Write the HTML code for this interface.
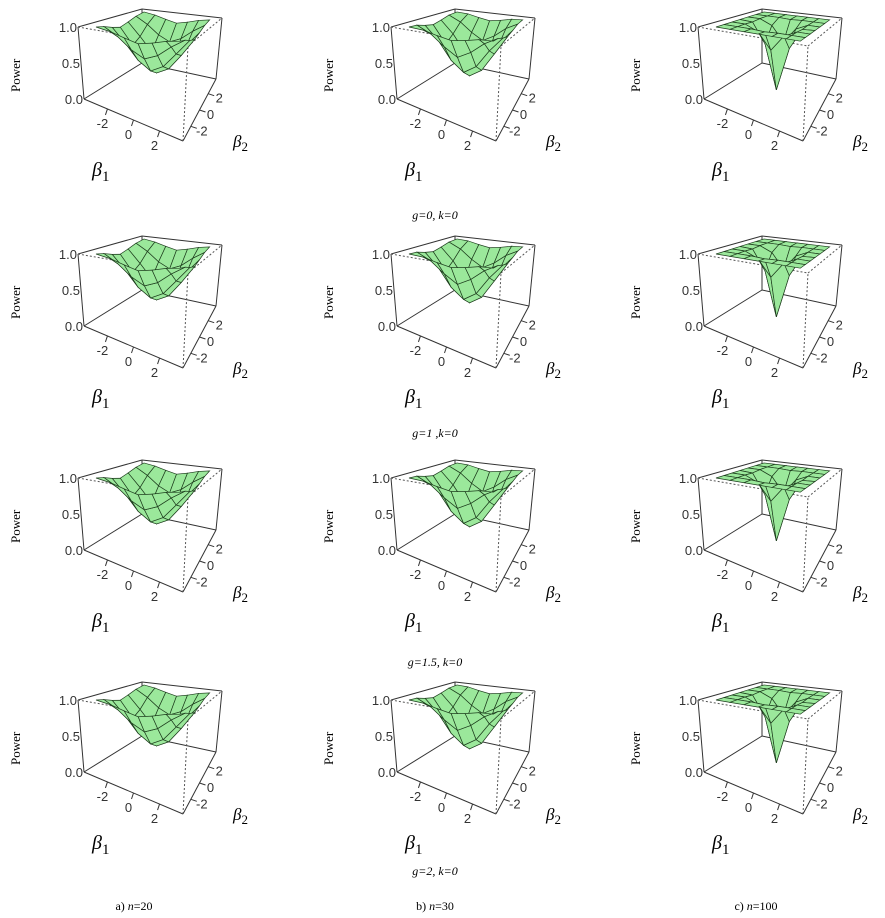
<!DOCTYPE html>
<html><head><meta charset="utf-8">
<style>
html,body{margin:0;padding:0;background:#fff;}
svg{display:block;font-family:"Liberation Sans",sans-serif;}
.ser{font-family:"Liberation Serif",serif;}
</style></head>
<body>
<svg id="fig" width="885" height="918" viewBox="0 0 885 918">
<g id="panels"></g>
<g class="ser" font-size="12" font-style="italic" fill="#000">
<text x="435" y="219" text-anchor="middle">g=0, k=0</text>
<text x="435" y="437" text-anchor="middle">g=1 ,k=0</text>
<text x="435" y="666" text-anchor="middle">g=1.5, k=0</text>
<text x="435" y="875" text-anchor="middle">g=2, k=0</text>
</g>
<g class="ser" font-size="12" fill="#000">
<text x="134" y="910" text-anchor="middle">a) <tspan font-style="italic">n</tspan>=20</text>
<text x="435" y="910" text-anchor="middle">b) <tspan font-style="italic">n</tspan>=30</text>
<text x="756" y="910" text-anchor="middle">c) <tspan font-style="italic">n</tspan>=100</text>
</g>
</svg>
<script>
// beta grid (both axes)
const betaGrid = [-3,-2,-1,0,1,2,3];
// power surfaces (rows = beta2, cols = beta1)
const powerN20 = [
 [1.00,0.97,0.92,0.88,0.92,0.97,1.00],
 [0.97,0.86,0.72,0.64,0.72,0.86,0.97],
 [0.92,0.72,0.52,0.42,0.52,0.72,0.92],
 [0.88,0.64,0.42,0.32,0.42,0.64,0.88],
 [0.92,0.72,0.52,0.42,0.52,0.72,0.92],
 [0.97,0.86,0.72,0.64,0.72,0.86,0.97],
 [1.00,0.97,0.92,0.88,0.92,0.97,1.00]];
const powerN30 = [
 [1.00,0.99,0.95,0.92,0.95,0.99,1.00],
 [0.99,0.90,0.76,0.66,0.76,0.90,0.99],
 [0.95,0.76,0.52,0.40,0.52,0.76,0.95],
 [0.92,0.66,0.40,0.28,0.40,0.66,0.92],
 [0.95,0.76,0.52,0.40,0.52,0.76,0.95],
 [0.99,0.90,0.76,0.66,0.76,0.90,0.99],
 [1.00,0.99,0.95,0.92,0.95,0.99,1.00]];
const powerN100 = [
 [1.00,1.00,1.00,1.00,1.00,1.00,1.00],
 [1.00,1.00,1.00,0.99,1.00,1.00,1.00],
 [1.00,1.00,0.92,0.70,0.92,1.00,1.00],
 [1.00,0.99,0.70,0.08,0.70,0.99,1.00],
 [1.00,1.00,0.92,0.70,0.92,1.00,1.00],
 [1.00,1.00,1.00,0.99,1.00,1.00,1.00],
 [1.00,1.00,1.00,1.00,1.00,1.00,1.00]];
const zTicks = [0, 0.5, 1];
const zTickLabels = ["0.0","0.5","1.0"];
const bTicks = [-2, 0, 2];
const bTickLabels = ["-2","0","2"];

const columns = [powerN20, powerN30, powerN100];
const colNames = ["n20","n30","n100"];
const colX = [0, 313, 620];
const rowY = [0, 227, 451, 673];
const NS = "http://www.w3.org/2000/svg";
// box corners (layout)
const A=[84,99], B=[183,141], C=[216,79], D=[142,63];
const At=[78,27], Bt=[188,46], Ct=[222,18], Dt=[142,9];
function bil(P,Q,R,S,u,v){
  return [P[0]*(1-u)*(1-v)+Q[0]*u*(1-v)+R[0]*u*v+S[0]*(1-u)*v,
          P[1]*(1-u)*(1-v)+Q[1]*u*(1-v)+R[1]*u*v+S[1]*(1-u)*v];}
const bMin=-3.8,bMax=3.8;
function uOf(b){return (b-bMin)/(bMax-bMin);}
function proj(b1,b2,z){
  const u=uOf(b1), v=uOf(b2);
  const p0=bil(A,B,C,D,u,v), p1=bil(At,Bt,Ct,Dt,u,v);
  return [p0[0]+(p1[0]-p0[0])*z, p0[1]+(p1[1]-p0[1])*z];}
function el(tag,attrs,parent){const e=document.createElementNS(NS,tag);for(const k in attrs)e.setAttribute(k,attrs[k]);parent.appendChild(e);return e;}
const root=document.getElementById('panels');
function line(g,p,q,dash){el('line',{x1:p[0],y1:p[1],x2:q[0],y2:q[1],stroke:dash?'#555':'#333','stroke-width':1,'stroke-dasharray':dash?'2,2':'none'},g);}
for(let r=0;r<4;r++)for(let c=0;c<3;c++){
  const g=el('g',{transform:`translate(${colX[c]},${rowY[r]})`},root);
  
  
  line(g,At,Dt,false);line(g,Dt,Ct,false);line(g,A,D,false);line(g,D,C,false);line(g,D,Dt,false);
  line(g,A,B,false);line(g,B,C,false);line(g,A,At,false);line(g,C,Ct,false);
  line(g,B,Bt,true);line(g,At,Bt,true);line(g,Bt,Ct,true);
  const Z=columns[c]; const quads=[];
  for(let i=0;i<betaGrid.length-1;i++)for(let j=0;j<betaGrid.length-1;j++){
    const pts=[[i,j],[i,j+1],[i+1,j+1],[i+1,j]].map(([a,b])=>proj(betaGrid[b],betaGrid[a],Z[a][b]));
    const depth=proj((betaGrid[j]+betaGrid[j+1])/2,(betaGrid[i]+betaGrid[i+1])/2,0)[1];
    quads.push({pts,depth});}
  quads.sort((a,b)=>a.depth-b.depth);
  const sg=el('g',{},g);
  
  
  quads.forEach(q=>{el('polygon',{points:q.pts.map(p=>p.join(',')).join(' '),fill:'#9be89b',stroke:'#1d3d1d','stroke-width':0.7},sg);});
  zTicks.forEach((z,k)=>{const p=[A[0]+(At[0]-A[0])*z, A[1]+(At[1]-A[1])*z];
    const t=el('text',{x:p[0]-1,y:p[1]+5,'text-anchor':'end','font-size':13,fill:'#333'},g);t.textContent=zTickLabels[k];
    
    });
  bTicks.forEach((b,k)=>{const p=proj(b,bMin,0);
    el('line',{x1:p[0],y1:p[1],x2:p[0]-2,y2:p[1]+6,stroke:'#333'},g);
    const t=el('text',{x:p[0]-5,y:p[1]+19,'text-anchor':'middle','font-size':13,fill:'#333'},g);t.textContent=bTickLabels[k];
    
    
    const q=proj(bMax,b,0);
    el('line',{x1:q[0],y1:q[1],x2:q[0]+6,y2:q[1]+2,stroke:'#333'},g);
    const t2=el('text',{x:q[0]+11,y:q[1]+9,'text-anchor':'middle','font-size':13,fill:'#333'},g);t2.textContent=bTickLabels[k];
    
    });
  const pw=el('text',{x:0,y:0,transform:'translate(20,92) rotate(-90)','font-size':13,'font-family':'Liberation Serif, serif',fill:'#000'},g);pw.textContent='Power';
  
  
  const b1=el('text',{x:92,y:176,'font-size':20,'font-family':'Liberation Serif, serif','font-style':'italic',fill:'#000'},g);b1.innerHTML='β<tspan font-size="15" font-style="normal" dy="5">1</tspan>';
  
  
  const b2=el('text',{x:233,y:147,'font-size':17,'font-family':'Liberation Serif, serif','font-style':'italic',fill:'#000'},g);b2.innerHTML='β<tspan font-size="13" font-style="normal" dy="4">2</tspan>';
  
  
}
</script>
</body></html>
